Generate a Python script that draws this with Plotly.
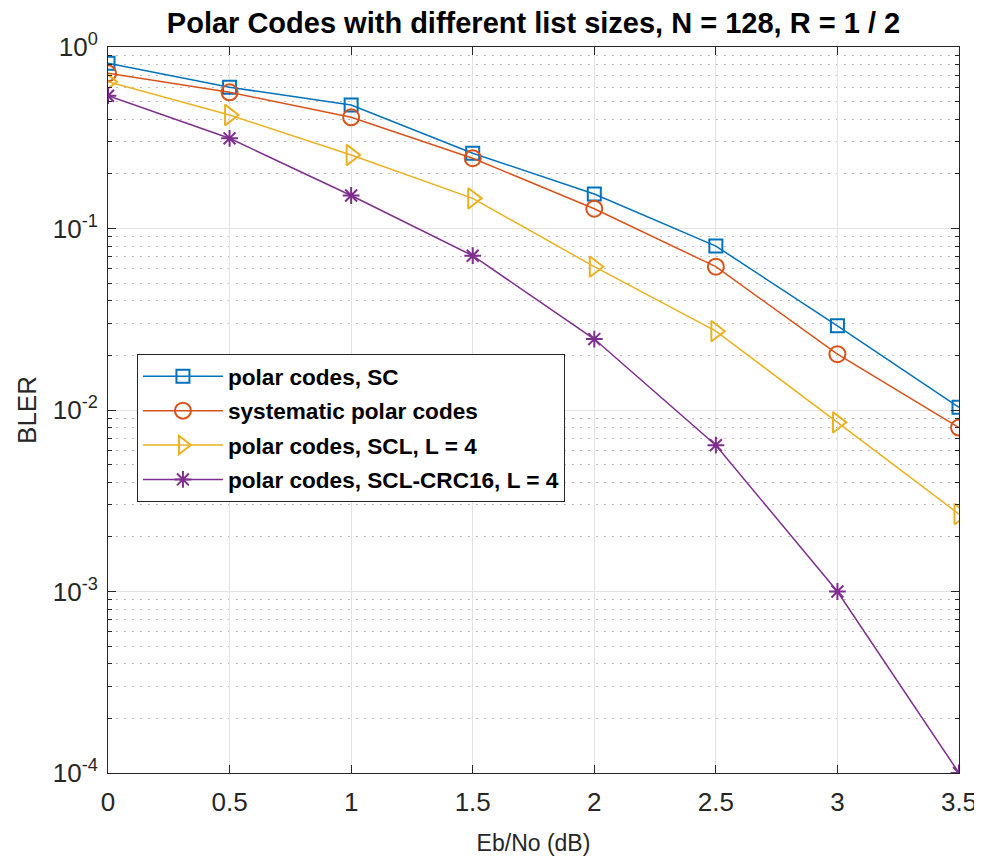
import plotly.graph_objects as go

ebno = [0, 0.5, 1, 1.5, 2, 2.5, 3, 3.5]
bler_sc = [0.813, 0.60, 0.479, 0.26, 0.155, 0.080, 0.0291, 0.01035]
bler_sys = [0.716, 0.563, 0.41, 0.244, 0.1285, 0.0616, 0.0203, 0.0080]
bler_scl = [0.644, 0.422, 0.254, 0.1466, 0.0616, 0.0272, 0.00855, 0.00267]
bler_crc = [0.539, 0.314, 0.152, 0.0708, 0.0246, 0.0064, 0.0010, 0.0001]

names = ["polar codes, SC", "systematic polar codes",
         "polar codes, SCL, L = 4", "polar codes, SCL-CRC16, L = 4"]
x_ticks = [0, 0.5, 1, 1.5, 2, 2.5, 3, 3.5]
x_ticklabels = ["0", "0.5", "1", "1.5", "2", "2.5", "3", "3.5"]
y_ticks = [1e-4, 1e-3, 1e-2, 1e-1, 1]
y_ticklabels = ["10<sup>-4</sup>", "10<sup>-3</sup>", "10<sup>-2</sup>",
                "10<sup>-1</sup>", "10<sup>0</sup>"]

series = [bler_sc, bler_sys, bler_scl, bler_crc]
colors = ["#0072BD", "#D95319", "#EDB120", "#7E2F8E"]
symbols = ["square-open", "circle-open", "triangle-right-open", "asterisk-open"]
sizes = [13, 16, 18, 14]

fig = go.Figure()
for i, (vals, nm) in enumerate(zip(series, names)):
    fig.add_trace(go.Scatter(
        x=ebno, y=vals, name=nm, mode="lines+markers",
        line=dict(color=colors[i], width=1.5),
        marker=dict(symbol=symbols[i], size=sizes[i], color=colors[i],
                    line=dict(width=2, color=colors[i])),
        legendgroup=f"g{i}",
    ))

minor_vals = [m * 10.0 ** e for e in range(-4, 0) for m in range(2, 10)]

fig.update_layout(
    width=974, height=851,
    margin=dict(l=100, r=23, t=39, b=86),
    paper_bgcolor="white", plot_bgcolor="white",
    font=dict(family="Liberation Sans, Arial, sans-serif", size=20, color="#262626"),
    title=dict(text="Polar Codes with different list sizes, N = 128, R = 1 / 2",
               x=0.5, xref="paper", xanchor="center", y=0.983, yanchor="middle",
               font=dict(size=29, color="black", weight="bold")),
    legend=dict(x=0.034, y=0.577, xanchor="left", yanchor="top",
                bgcolor="white", bordercolor="#262626", borderwidth=1,
                font=dict(size=22.6, color="black", weight="bold"),
                itemwidth=80, tracegroupgap=2),
    showlegend=True,
)

fig.update_xaxes(
    range=[0, 3.5], tickvals=x_ticks, ticktext=x_ticklabels,
    showline=True, linecolor="#262626", linewidth=1, mirror="ticks",
    ticks="inside", ticklen=8, tickcolor="#262626", automargin=False,
    showgrid=True, gridcolor="#E3E3E3", gridwidth=1, zeroline=False,
    title=dict(text="Eb/No (dB)", font=dict(size=23, color="#262626"), standoff=18),
    tickfont=dict(size=26), ticklabelstandoff=6,
)
fig.update_yaxes(
    type="log", range=[-4, 0], tickvals=y_ticks, ticktext=y_ticklabels,
    showline=True, linecolor="#262626", linewidth=1, mirror="ticks",
    ticks="inside", ticklen=8, tickcolor="#262626", automargin=False,
    showgrid=True, gridcolor="#E3E3E3", gridwidth=1, zeroline=False,
    minor=dict(tickvals=minor_vals, showgrid=True, gridcolor="#BDBDBD",
               griddash="2px,6px", gridwidth=1, ticks="inside", ticklen=4,
               tickcolor="#262626"),
    title=dict(text="BLER", font=dict(size=26, color="#262626"), standoff=8),
    tickfont=dict(size=26), ticklabelstandoff=4,
)

fig.write_html("out.html")
